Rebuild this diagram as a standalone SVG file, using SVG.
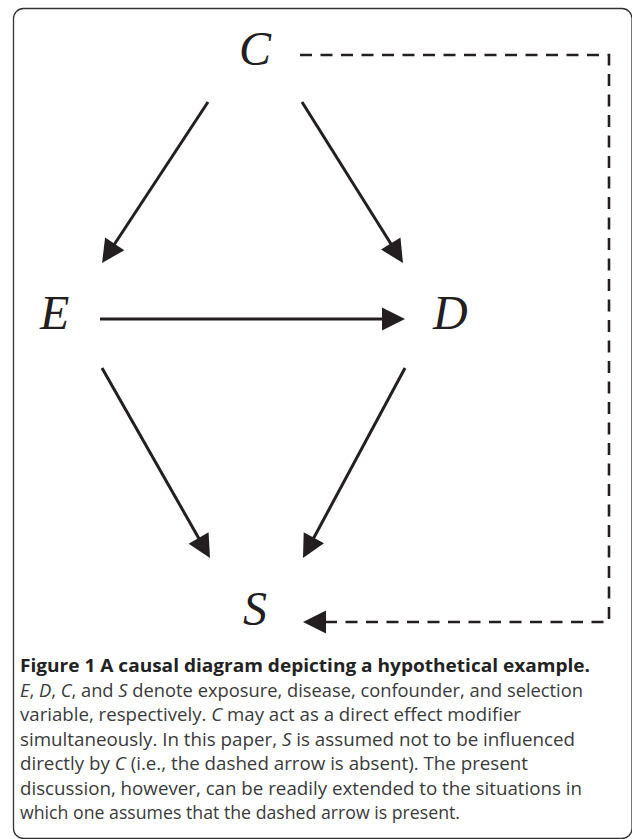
<svg xmlns="http://www.w3.org/2000/svg" width="632" height="839" viewBox="0 0 632 839">
<style>
.lbl{font-family:"Liberation Serif","Times New Roman",serif;font-style:italic;font-size:48px;fill:#231f20}
.edge{stroke:#231f20;stroke-width:3;fill:none}
.dash{stroke:#231f20;stroke-width:2.6;fill:none;stroke-dasharray:12 8.5}
.cap{font-family:"Open Sans","Noto Sans",sans-serif;font-size:17.5px;fill:#3a3a3a}
.capb{font-weight:bold;fill:#222;font-size:18px}
.it{font-style:italic}
</style>
<defs>
<marker id="ah" markerUnits="userSpaceOnUse" markerWidth="30" markerHeight="26" refX="2" refY="11.5" orient="auto" overflow="visible">
<path d="M0,0 L23,11.5 L0,23 Z" fill="#231f20" stroke="none"/>
</marker>
</defs>
<rect x="13.5" y="8.5" width="618.5" height="830" rx="10" ry="10" fill="none" stroke="#333" stroke-width="1.3"/>
<g id="connectors">
<line class="edge" x1="208" y1="102" x2="113.6" y2="245.5" marker-end="url(#ah)"/>
<line class="edge" x1="302" y1="102" x2="391.8" y2="245.2" marker-end="url(#ah)"/>
<line class="edge" x1="100" y1="319" x2="384" y2="319" marker-end="url(#ah)"/>
<line class="edge" x1="102" y1="368" x2="199.6" y2="539.7" marker-end="url(#ah)"/>
<line class="edge" x1="405" y1="368" x2="312.9" y2="539.5" marker-end="url(#ah)"/>
<path class="dash" d="M300,55 H609 V622 H324" marker-end="url(#ah)"/>
</g>
<g id="node-C"><text class="lbl" x="255" y="65" text-anchor="middle">C</text></g>
<g id="node-E"><text class="lbl" x="40" y="329">E</text></g>
<g id="node-D"><text class="lbl" x="433" y="329">D</text></g>
<g id="node-S"><text class="lbl" x="255" y="625" text-anchor="middle">S</text></g>
<g id="caption" class="cap">
<text class="capb" x="20" y="672" textLength="570" lengthAdjust="spacingAndGlyphs">Figure 1 A causal diagram depicting a hypothetical example.</text>
<text x="20" y="696.5" textLength="563" lengthAdjust="spacingAndGlyphs"><tspan class="it">E</tspan>, <tspan class="it">D</tspan>, <tspan class="it">C</tspan>, and <tspan class="it">S</tspan> denote exposure, disease, confounder, and selection</text>
<text x="20" y="721" textLength="501" lengthAdjust="spacingAndGlyphs">variable, respectively. <tspan class="it">C</tspan> may act as a direct effect modifier</text>
<text x="20" y="745.5" textLength="555" lengthAdjust="spacingAndGlyphs">simultaneously. In this paper, <tspan class="it">S</tspan> is assumed not to be influenced</text>
<text x="20" y="770" textLength="508" lengthAdjust="spacingAndGlyphs">directly by <tspan class="it">C</tspan> (i.e., the dashed arrow is absent). The present</text>
<text x="20" y="794.5" textLength="562" lengthAdjust="spacingAndGlyphs">discussion, however, can be readily extended to the situations in</text>
<text x="20" y="819" textLength="440" lengthAdjust="spacingAndGlyphs">which one assumes that the dashed arrow is present.</text>
</g>
</svg>
